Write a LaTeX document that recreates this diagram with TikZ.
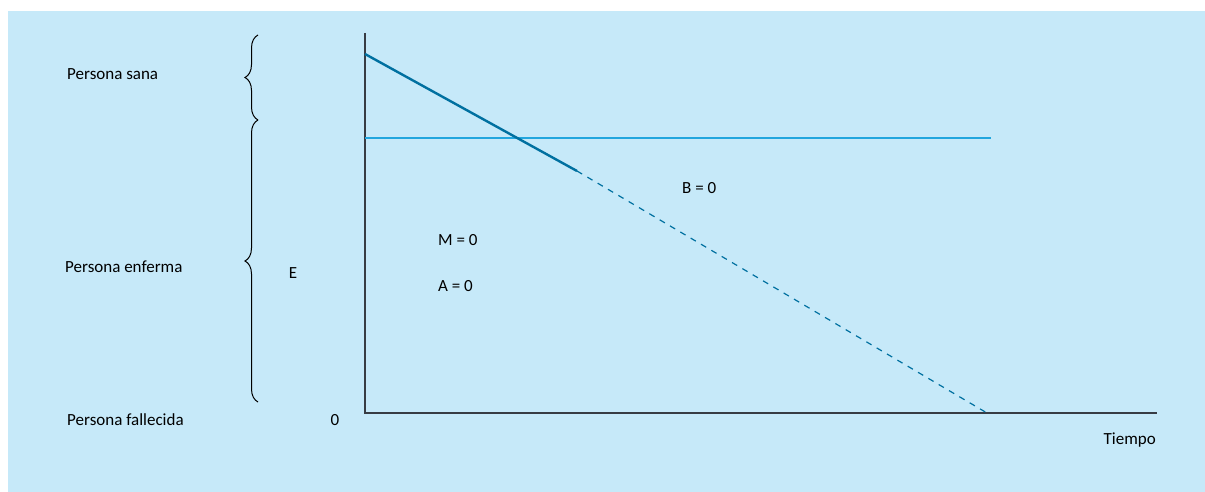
\documentclass[tikz,border=0pt]{standalone}
\usepackage{fontspec}
\setmainfont{Carlito}
\usetikzlibrary{decorations.pathreplacing}
\definecolor{panelblue}{RGB}{198,233,249}
\definecolor{curveblue}{RGB}{0,112,160}
\definecolor{levelblue}{RGB}{34,166,222}
\definecolor{axisgray}{RGB}{55,60,68}
\tikzset{
    axisline/.style={line width=1.3pt,axisgray},
    curve/.style={line width=2.4pt,curveblue},
    curvetail/.style={line width=1.2pt,curveblue,dash pattern=on 6pt off 6pt},
    levelline/.style={line width=1.4pt,levelblue},
    bracepath/.style={line width=1pt,black,decorate,decoration={brace,amplitude=13pt}},
    lbl/.style={font=\fontsize{17}{20}\selectfont,inner sep=0pt}
}
\begin{document}
\begin{tikzpicture}[x=1pt,y=-1pt]
    \useasboundingbox (0,0) rectangle (1205,492);
    % Panel
    \fill[panelblue] (8,11) rectangle (1205,492);
    % Axes
    \coordinate (origin) at (365,413);
    \coordinate (ytop) at (365,33);
    \coordinate (xend) at (1157,413);
    \draw[axisline] (ytop) -- (origin) -- (xend);
    % Health level
    \coordinate (lvstart) at (365,138);
    \coordinate (lvend) at (991,138);
    \draw[levelline] (lvstart) -- (lvend);
    % Decline
    \coordinate (cstart) at (365,54);
    \coordinate (cmid) at (577,171);
    \coordinate (cend) at (987,413);
    \draw[curve] (cstart) -- (cmid);
    \draw[curvetail] (cmid) -- (cend);
    % Braces
    \coordinate (bra) at (258,120);
    \coordinate (brb) at (258,35);
    \coordinate (brc) at (258,402);
    \draw[bracepath] (bra) -- (brb);
    \draw[bracepath] (brc) -- (bra);
    % Labels
    \node[lbl,anchor=west] (sana) at (67,74) {Persona sana};
    \node[lbl,anchor=west] (enferma) at (65,267) {Persona enferma};
    \node[lbl,anchor=west] (fallecida) at (67,420) {Persona fallecida};
    \node[lbl] (elbl) at (293,273) {E};
    \node[lbl] (zero) at (335,420) {0};
    \node[lbl,anchor=west] (mlbl) at (438,240) {M = 0};
    \node[lbl,anchor=west] (albl) at (438,286) {A = 0};
    \node[lbl,anchor=west] (blbl) at (682,188) {B = 0};
    \node[lbl,anchor=east] (tiempo) at (1156,440) {Tiempo};
\end{tikzpicture}
\end{document}
